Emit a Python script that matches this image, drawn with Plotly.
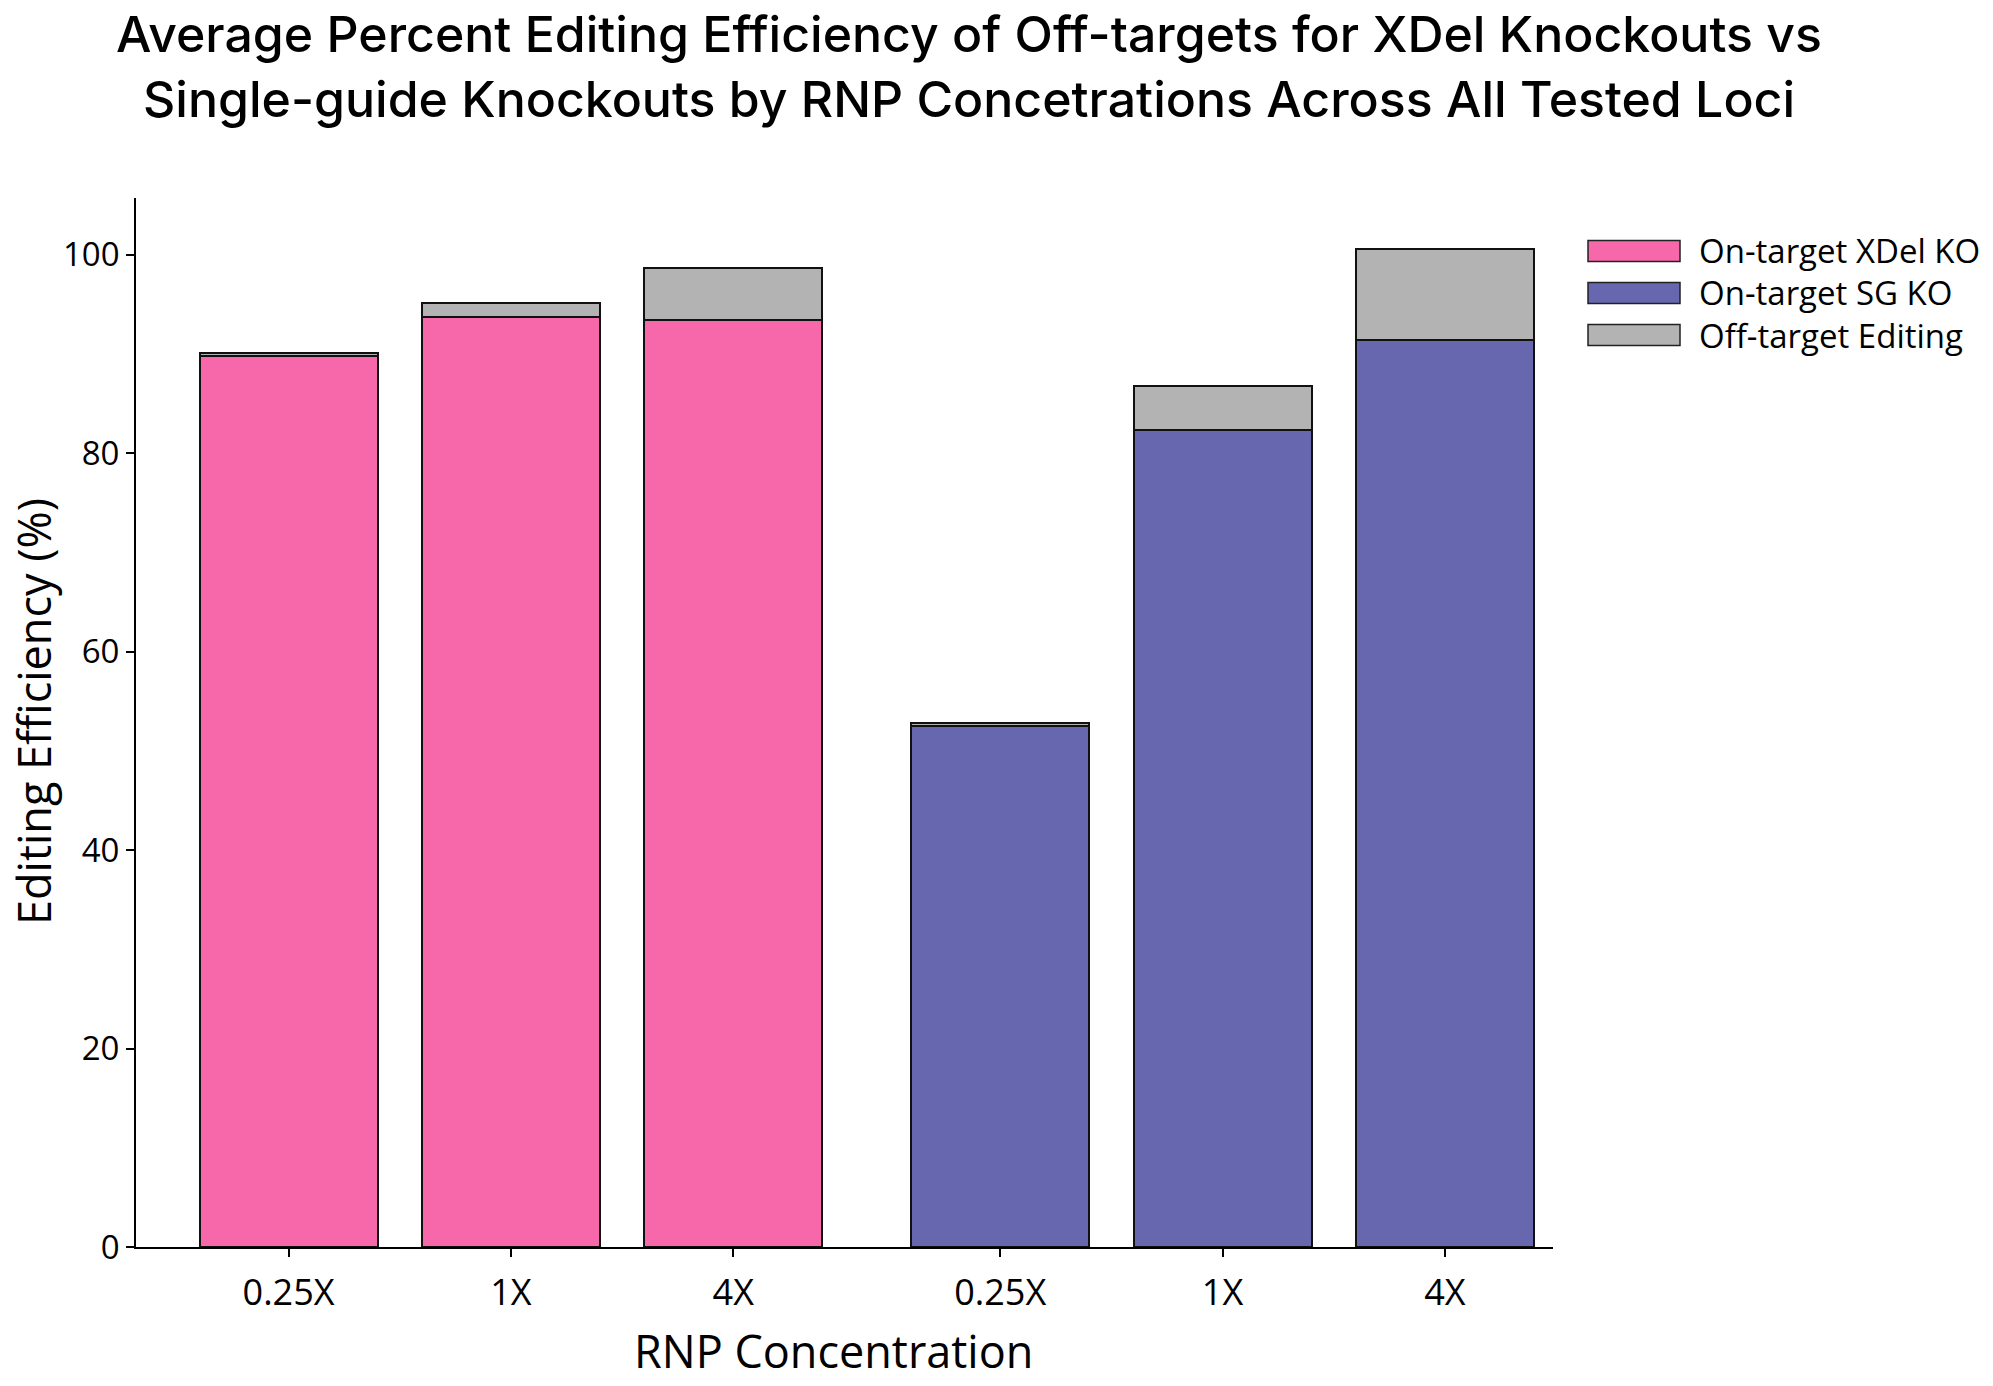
import plotly.graph_objects as go

# ---- data ----
concentrations = ["0.25X", "1X", "4X"]
xdel_on_target = [89.8, 93.7, 93.4]
xdel_off_target = [0.25, 1.4, 5.25]
sg_on_target = [52.5, 82.3, 91.4]
sg_off_target = [0.25, 4.5, 9.2]
series_names = ["On-target XDel KO", "On-target SG KO", "Off-target Editing"]
x_title = "RNP Concentration"
y_title = "Editing Efficiency (%)"

# ---- styles ----
PINK = "#F768AA"
BLUE = "#6667AE"
GRAY = "#B3B3B3"
EDGE = "#111111"
FONT = "Open Sans"

xdel_pos = [0, 1, 2]
sg_pos = [3.2, 4.2, 5.2]
all_pos = xdel_pos + sg_pos

fig = go.Figure()
fig.add_trace(go.Bar(x=xdel_pos, y=xdel_on_target, name=series_names[0], width=0.8,
                     marker=dict(color=PINK, line=dict(color=EDGE, width=2))))
fig.add_trace(go.Bar(x=sg_pos, y=sg_on_target, name=series_names[1], width=0.8,
                     marker=dict(color=BLUE, line=dict(color=EDGE, width=2))))
fig.add_trace(go.Bar(x=all_pos, y=xdel_off_target + sg_off_target, name=series_names[2], width=0.8,
                     marker=dict(color=GRAY, line=dict(color=EDGE, width=2))))

# page has an 8px body margin, so the figure is 16px smaller than the window
W, H = 1977, 1370
L, R, T, B = 128, 432, 190, 131
pw, ph = W - L - R, H - T - B
def px_to_paper_x(px):
    return (px - L) / pw
def px_to_paper_y(py):
    return (H - B - py) / ph

# manual legend (wide rectangular swatches)
legend_colors = [PINK, BLUE, GRAY]
row_y = [243, 285, 327]
for name, col, ry in zip(series_names, legend_colors, row_y):
    fig.add_shape(type="rect", xref="paper", yref="paper",
                  x0=px_to_paper_x(1580), x1=px_to_paper_x(1672),
                  y0=px_to_paper_y(ry + 10.5), y1=px_to_paper_y(ry - 10.5),
                  fillcolor=col, line=dict(color="#222222", width=1.5))
    fig.add_annotation(xref="paper", yref="paper", x=px_to_paper_x(1689), y=px_to_paper_y(ry),
                       text=name, showarrow=False, xanchor="left", yanchor="middle",
                       font=dict(family=FONT, size=33, color="black"))

# axis titles
fig.add_annotation(xref="paper", yref="paper", x=px_to_paper_x(825), y=px_to_paper_y(1342),
                   text=x_title, showarrow=False, xanchor="center", yanchor="middle",
                   font=dict(family=FONT, size=45, color="black"))
fig.add_annotation(xref="paper", yref="paper", x=px_to_paper_x(25), y=px_to_paper_y(704),
                   text=y_title, textangle=-90, showarrow=False, xanchor="center", yanchor="middle",
                   font=dict(family=FONT, size=45, color="black"))

fig.update_layout(
    width=W, height=H,
    margin=dict(l=L, r=R, t=T, b=B, autoexpand=False),
    barmode="stack",
    showlegend=False,
    plot_bgcolor="white", paper_bgcolor="white",
    title=dict(
        text="Average Percent Editing Efficiency of Off-targets for XDel Knockouts vs<br>Single-guide Knockouts by RNP Concetrations Across All Tested Loci",
        x=0.4861, xanchor="center", y=0.968, yanchor="middle",
        font=dict(family="Inter", size=50, color="black", weight=500),
    ),
    font=dict(family=FONT, color="black"),
)
fig.update_xaxes(
    automargin=False,
    range=[-0.686, 5.686],
    tickvals=all_pos, ticktext=concentrations + concentrations,
    ticks="outside", ticklen=8, tickwidth=1.5, tickcolor="black",
    ticklabelstandoff=5,
    showline=True, linecolor="black", linewidth=1.8,
    showgrid=False, zeroline=False,
    tickfont=dict(family=FONT, size=36),
)
fig.update_yaxes(
    automargin=False,
    range=[0, 105.7],
    tickvals=[0, 20, 40, 60, 80, 100],
    ticks="outside", ticklen=8, tickwidth=1.5, tickcolor="black",
    showline=True, linecolor="black", linewidth=1.8,
    showgrid=False, zeroline=False,
    tickfont=dict(family=FONT, size=33),
)

fig.write_html("out.html")
